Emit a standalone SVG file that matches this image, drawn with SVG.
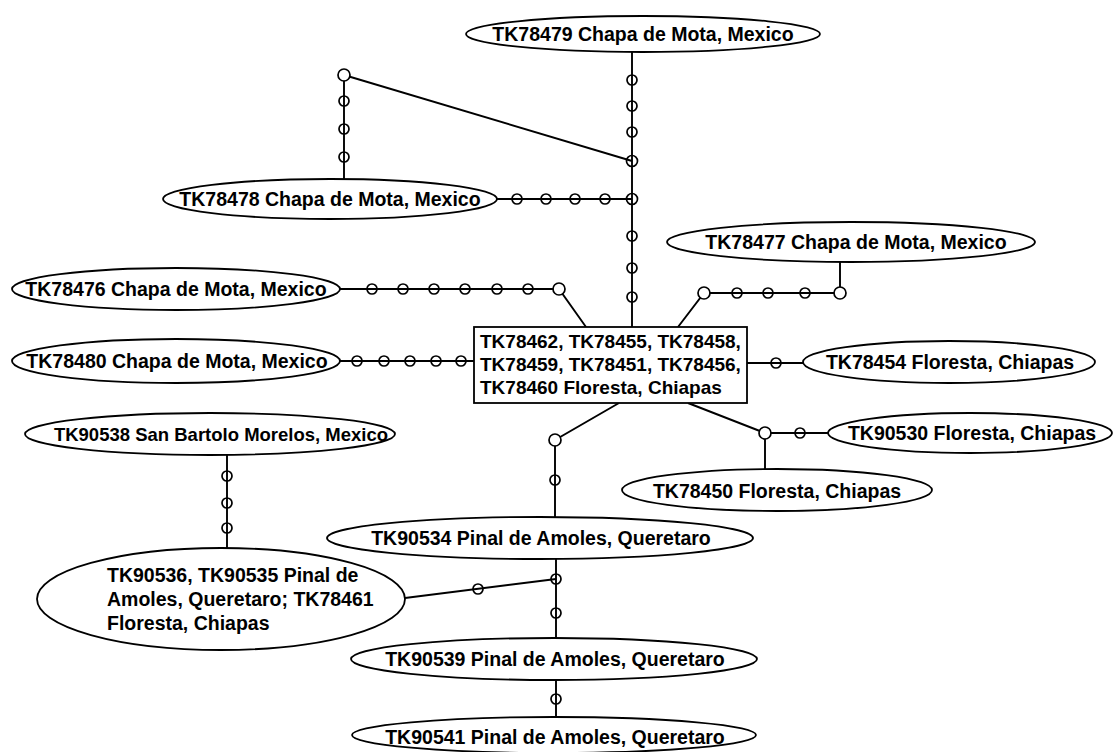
<svg xmlns="http://www.w3.org/2000/svg" width="1115" height="752" viewBox="0 0 1115 752">
<style>
.n ellipse,.n rect{fill:#fff;stroke:#000;stroke-width:1.8}
text{font-family:"Liberation Sans",Arial,sans-serif;font-weight:bold;font-size:19.5px;fill:#000}
.b text{font-size:19px}
.s text{font-size:18.5px}
.c{text-anchor:middle;dominant-baseline:central}
#edges line,#edges polyline{stroke:#000;stroke-width:1.9;fill:none}
.m{fill:none;stroke:#000;stroke-width:1.7}
.v{fill:#fff;stroke:#000;stroke-width:1.7}
</style>
<rect width="1115" height="752" fill="#fff"/>
<g id="edges">
<line x1="632" y1="52" x2="632" y2="327"/>
<line x1="344" y1="75" x2="632" y2="161"/>
<line x1="344" y1="75" x2="344" y2="179"/>
<line x1="496" y1="199" x2="632" y2="199"/>
<polyline points="840,262 840,293 704,293 678,327"/>
<polyline points="340,289 559,289 586,327"/>
<line x1="340" y1="361" x2="474" y2="361"/>
<line x1="747" y1="363" x2="803" y2="363"/>
<polyline points="688,403 765,433 828,433"/>
<line x1="765" y1="433" x2="765" y2="469"/>
<polyline points="619,403 555,440 555,517"/>
<line x1="227" y1="455" x2="227" y2="548"/>
<line x1="556" y1="558" x2="556" y2="638"/>
<line x1="405" y1="598" x2="556" y2="579"/>
<line x1="556" y1="680" x2="556" y2="717"/>
<circle class="m" cx="632" cy="80" r="5"/>
<circle class="m" cx="632" cy="106" r="5"/>
<circle class="m" cx="632" cy="132" r="5"/>
<circle class="m" cx="632" cy="161" r="5.5"/>
<circle class="m" cx="632" cy="199" r="5.5"/>
<circle class="m" cx="632" cy="236" r="5"/>
<circle class="m" cx="632" cy="268" r="5"/>
<circle class="m" cx="632" cy="297" r="5"/>
<circle class="v" cx="344" cy="75" r="6"/>
<circle class="m" cx="344" cy="101" r="5"/>
<circle class="m" cx="344" cy="129" r="5"/>
<circle class="m" cx="344" cy="157" r="5"/>
<circle class="m" cx="517" cy="199" r="5"/>
<circle class="m" cx="546" cy="199" r="5"/>
<circle class="m" cx="575" cy="199" r="5"/>
<circle class="m" cx="605" cy="199" r="5"/>
<circle class="v" cx="840" cy="293" r="6"/>
<circle class="m" cx="805" cy="293" r="5"/>
<circle class="m" cx="768" cy="293" r="5"/>
<circle class="m" cx="737" cy="293" r="5"/>
<circle class="v" cx="704" cy="293" r="6"/>
<circle class="m" cx="372" cy="289" r="5"/>
<circle class="m" cx="403" cy="289" r="5"/>
<circle class="m" cx="434" cy="289" r="5"/>
<circle class="m" cx="465" cy="289" r="5"/>
<circle class="m" cx="497" cy="289" r="5"/>
<circle class="m" cx="528" cy="289" r="5"/>
<circle class="v" cx="559" cy="289" r="6"/>
<circle class="m" cx="357" cy="361" r="5"/>
<circle class="m" cx="384" cy="361" r="5"/>
<circle class="m" cx="410" cy="361" r="5"/>
<circle class="m" cx="436" cy="361" r="5"/>
<circle class="m" cx="461" cy="361" r="5"/>
<circle class="m" cx="776" cy="363" r="5"/>
<circle class="v" cx="765" cy="433" r="6"/>
<circle class="m" cx="800" cy="433" r="5"/>
<circle class="v" cx="555" cy="440" r="6"/>
<circle class="m" cx="555" cy="480" r="5"/>
<circle class="m" cx="227" cy="476" r="5"/>
<circle class="m" cx="227" cy="503" r="5"/>
<circle class="m" cx="227" cy="528" r="5"/>
<circle class="m" cx="556" cy="579" r="5"/>
<circle class="m" cx="556" cy="613" r="5"/>
<circle class="m" cx="478" cy="589" r="5"/>
<circle class="m" cx="556" cy="699" r="5"/>
</g>
<g id="n79" class="n"><ellipse cx="643" cy="34" rx="177" ry="18"/><text class="c" x="643" y="34">TK78479 Chapa de Mota, Mexico</text></g>
<g id="n78" class="n"><ellipse cx="330" cy="199" rx="167" ry="20"/><text class="c" x="330" y="199">TK78478 Chapa de Mota, Mexico</text></g>
<g id="n77" class="n"><ellipse cx="851" cy="242" rx="184" ry="20"/><text class="c" x="856" y="242">TK78477 Chapa de Mota, Mexico</text></g>
<g id="n76" class="n"><ellipse cx="176" cy="289" rx="164" ry="21"/><text class="c" x="176" y="289">TK78476 Chapa de Mota, Mexico</text></g>
<g id="center" class="n b"><rect x="474" y="327" width="273" height="76"/>
<text x="480" y="348">TK78462, TK78455, TK78458,</text>
<text x="480" y="371">TK78459, TK78451, TK78456,</text>
<text x="480" y="394">TK78460 Floresta, Chiapas</text></g>
<g id="n80" class="n"><ellipse cx="176" cy="361" rx="164" ry="22"/><text class="c" x="177" y="361">TK78480 Chapa de Mota, Mexico</text></g>
<g id="n54" class="n"><ellipse cx="949" cy="362" rx="146" ry="21"/><text class="c" x="950" y="362">TK78454 Floresta, Chiapas</text></g>
<g id="n530" class="n"><ellipse cx="970" cy="433" rx="142" ry="20"/><text class="c" x="972" y="433">TK90530 Floresta, Chiapas</text></g>
<g id="n50" class="n"><ellipse cx="777" cy="490" rx="155" ry="21"/><text class="c" x="777" y="491">TK78450 Floresta, Chiapas</text></g>
<g id="n538" class="n s"><ellipse cx="210" cy="434" rx="185" ry="21"/><text class="c" x="221" y="434">TK90538 San Bartolo Morelos, Mexico</text></g>
<g id="n534" class="n"><ellipse cx="540" cy="538" rx="213" ry="21"/><text class="c" x="541" y="538">TK90534 Pinal de Amoles, Queretaro</text></g>
<g id="n536" class="n"><ellipse cx="221" cy="599" rx="184" ry="51"/>
<text x="107" y="582">TK90536, TK90535 Pinal de</text>
<text x="107" y="606">Amoles, Queretaro; TK78461</text>
<text x="107" y="630">Floresta, Chiapas</text></g>
<g id="n539" class="n"><ellipse cx="554" cy="659" rx="203" ry="21"/><text class="c" x="555" y="659">TK90539 Pinal de Amoles, Queretaro</text></g>
<g id="n541" class="n"><ellipse cx="554" cy="735" rx="202" ry="18"/><text class="c" x="555" y="737">TK90541 Pinal de Amoles, Queretaro</text></g>
</svg>
